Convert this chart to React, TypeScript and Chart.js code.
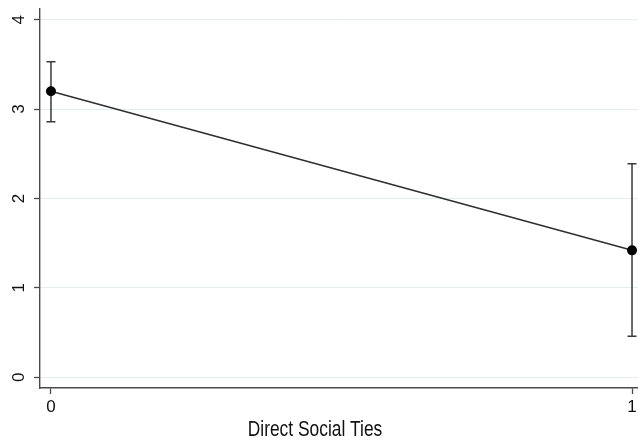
import React, { useEffect, useRef } from "react";
import { Chart, registerables } from "chart.js";

Chart.register(...registerables);

// Predictive margins by direct social ties, with 95% confidence intervals
const tieLevels = [0, 1];
const margins = [3.2, 1.42];
const ciLower = [2.86, 0.46];
const ciUpper = [3.53, 2.39];
const yTickValues = [0, 1, 2, 3, 4];
const xTickValues = [0, 1];
const xAxisTitle = "Direct Social Ties";

const AXIS_COLOR = "#4a4a4a";
const FONT = '"Liberation Sans", Arial, Helvetica, sans-serif';

const errorBarsAndLabels = {
  id: "errorBarsAndLabels",
  afterDatasetsDraw(chart: any) {
    const { ctx, scales } = chart;
    const x = scales.x;
    const y = scales.y;
    ctx.save();
    // confidence interval whiskers
    ctx.strokeStyle = "#3a3a3a";
    ctx.lineWidth = 1.5;
    const cap = 4.5;
    tieLevels.forEach((lvl, i) => {
      const px = x.getPixelForValue(lvl);
      const lo = y.getPixelForValue(ciLower[i]);
      const hi = y.getPixelForValue(ciUpper[i]);
      ctx.beginPath();
      ctx.moveTo(px, lo);
      ctx.lineTo(px, hi);
      ctx.moveTo(px - cap, lo);
      ctx.lineTo(px + cap, lo);
      ctx.moveTo(px - cap, hi);
      ctx.lineTo(px + cap, hi);
      ctx.stroke();
    });
    // markers on top of whiskers
    ctx.fillStyle = "#000";
    tieLevels.forEach((lvl, i) => {
      ctx.beginPath();
      ctx.arc(x.getPixelForValue(lvl), y.getPixelForValue(margins[i]), 5, 0, Math.PI * 2);
      ctx.fill();
    });
    ctx.restore();
  },
  afterDraw(chart: any) {
    const { ctx, scales } = chart;
    const x = scales.x;
    const y = scales.y;
    ctx.save();
    ctx.fillStyle = "#111";
    ctx.font = `17px ${FONT}`;
    ctx.textAlign = "center";
    ctx.textBaseline = "middle";
    // vertical y tick labels
    yTickValues.forEach((v) => {
      ctx.save();
      ctx.translate(19.5, y.getPixelForValue(v));
      ctx.rotate(-Math.PI / 2);
      ctx.fillText(String(v), 0, 0);
      ctx.restore();
    });
    xTickValues.forEach((v) => {
      ctx.fillText(String(v), x.getPixelForValue(v), 407);
    });
    // x axis title
    ctx.font = `22px ${FONT}`;
    ctx.textBaseline = "alphabetic";
    ctx.save();
    ctx.translate(315, 436);
    ctx.scale(0.79, 1);
    ctx.fillText(xAxisTitle, 0, 0);
    ctx.restore();
    ctx.restore();
  },
};

export default function App() {
  const canvasRef = useRef<HTMLCanvasElement | null>(null);

  useEffect(() => {
    const canvas = canvasRef.current;
    if (!canvas) return;
    const chart = new Chart(canvas, {
      type: "line",
      data: {
        datasets: [
          {
            data: tieLevels.map((t, i) => ({ x: t, y: margins[i] })),
            borderColor: "#2e2e2e",
            borderWidth: 1.5,
            pointRadius: 0,
            tension: 0,
          },
        ],
      },
      options: {
        animation: false,
        responsive: false,
        devicePixelRatio: 1,
        layout: { padding: { left: 34, top: 9, right: 0, bottom: 49 } },
        plugins: {
          legend: { display: false },
          tooltip: { enabled: false },
          title: { display: false },
        },
        scales: {
          x: {
            type: "linear",
            min: -0.0189,
            max: 1.0103,
            afterBuildTicks: (scale: any) => {
              scale.ticks = xTickValues.map((v) => ({ value: v }));
            },
            ticks: { display: false },
            grid: {
              drawOnChartArea: false,
              drawTicks: true,
              tickLength: 6,
              tickColor: AXIS_COLOR,
              tickWidth: 1.3,
            },
            border: { display: true, color: AXIS_COLOR, width: 1.4 },
          },
          y: {
            type: "linear",
            min: -0.12,
            max: 4.12,
            afterBuildTicks: (scale: any) => {
              scale.ticks = yTickValues.map((v) => ({ value: v }));
            },
            ticks: { display: false },
            grid: {
              drawOnChartArea: true,
              color: "#e4eef0",
              lineWidth: 1,
              drawTicks: true,
              tickLength: 6,
              tickColor: AXIS_COLOR,
              tickWidth: 1.3,
            },
            border: { display: true, color: AXIS_COLOR, width: 1.4 },
          },
        },
      },
      plugins: [errorBarsAndLabels],
    });
    return () => chart.destroy();
  }, []);

  return (
    <div style={{ position: "fixed", left: 0, top: 0, width: 638, height: 443, background: "#fff" }}>
      <canvas ref={canvasRef} width={638} height={443} style={{ display: "block" }} />
    </div>
  );
}
